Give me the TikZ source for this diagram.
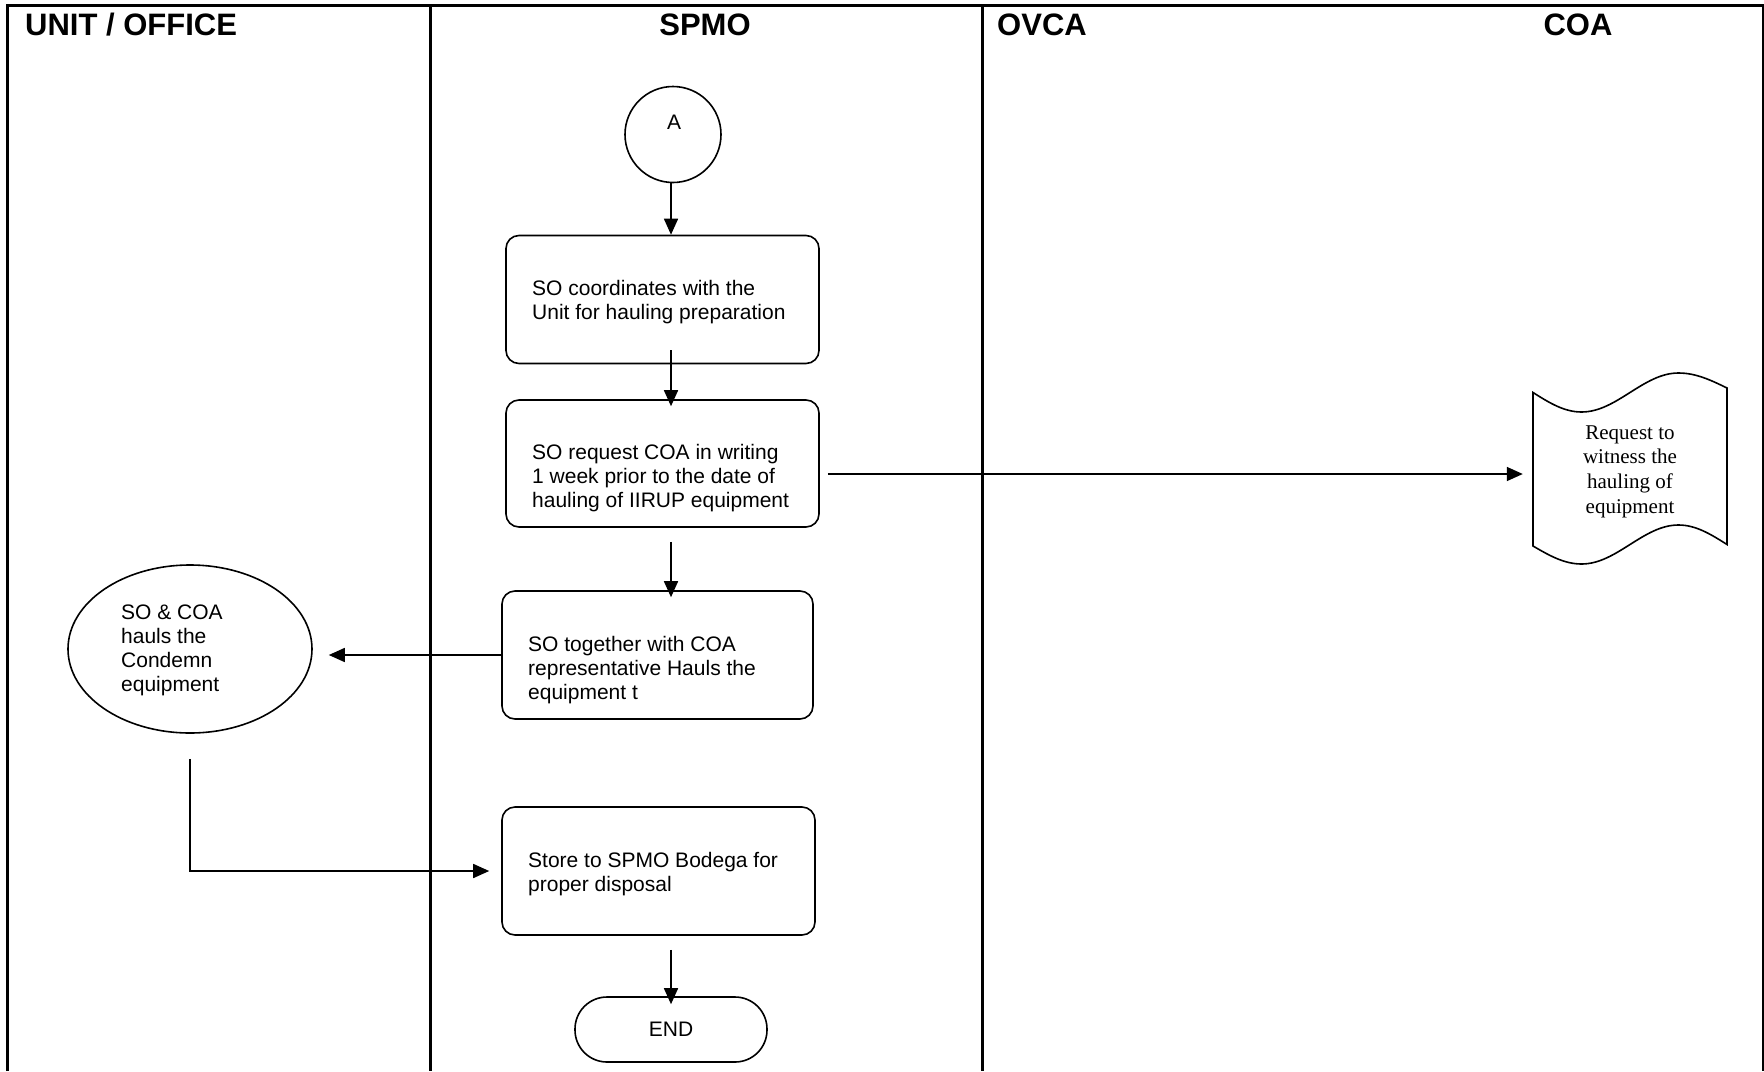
\documentclass[tikz,border=0pt]{standalone}
\usepackage{fontspec}
\setmainfont{Liberation Sans}
\newfontfamily\docfont{Liberation Serif}
\usetikzlibrary{arrows.meta,calc,shapes.geometric}

\begin{document}
\begin{tikzpicture}[x=1pt,y=-1pt,
  frame/.style={line width=3pt},
  shapeline/.style={line width=1.6pt},
  procbox/.style={draw, shapeline, rounded corners=13pt, inner sep=0pt,
    minimum width=313pt, minimum height=128pt},
  body/.style={font=\fontsize{21}{24}\selectfont, align=left, inner sep=0pt,
    anchor=north west},
  head/.style={font=\bfseries\fontsize{31}{36}\selectfont, inner sep=0pt},
  arr/.style={line width=1.6pt, -{Triangle[length=16pt,width=14pt]}}]

\useasboundingbox (0,0) rectangle (1764,1071);

% swimlane frame
\draw[frame] (7,1071) -- (7,5) -- (1763,5) -- (1763,1071);
\draw[frame] (430,5) -- (430,1071);
\draw[frame] (982,5) -- (982,1071);

% lane headings
\node[head, anchor=base west] (hUnit) at (25,35) {UNIT / OFFICE};
\node[head, anchor=base] (hSpmo) at (705,35) {SPMO};
\node[head, anchor=base west] (hOvca) at (997,35) {OVCA};
\node[head, anchor=base] (hCoa) at (1578,35) {COA};

% vertical flow line of the SPMO lane
\coordinate (spine) at (671,0);

% connector A
\node[draw, shapeline, circle, minimum size=96pt, inner sep=0pt] (A) at (673,134.5) {};
\node[font=\fontsize{21}{24}\selectfont, inner sep=0pt] (Atext) at (674,122.5) {A};

% process boxes
\node[procbox] (b1) at (662.5,299.5) {};
\node[body] (t1) at (532,280) {SO coordinates with the\\Unit for hauling preparation};

\node[procbox, minimum height=127pt] (b2) at (662.5,463.5) {};
\node[body] (t2) at (532,444) {SO request COA in writing\\1 week prior to the date of\\hauling of IIRUP equipment};

\node[procbox, minimum width=311pt] (b3) at (657.5,655) {};
\node[body] (t3) at (528,636) {SO together with COA\\representative Hauls the\\equipment t};

\node[procbox] (b4) at (658.5,871) {};
\node[body] (t4) at (528,852) {Store to SPMO Bodega for\\proper disposal};

% terminator
\node[draw, shapeline, rounded corners=32pt, minimum width=192pt, minimum height=65pt,
  inner sep=0pt, font=\fontsize{21}{24}\selectfont] (end) at (671,1029.5) {END};

% unit / office activity
\node[draw, shapeline, ellipse, minimum width=244pt, minimum height=168pt, inner sep=0pt] (E) at (190,649) {};
\node[body] (tE) at (121,605) {SO \& COA\\hauls the\\Condemn\\equipment};

% COA document
\node[minimum width=194pt, minimum height=152pt, inner sep=0pt, align=center,
  font=\docfont\fontsize{21}{24.75}\selectfont] (doc) at (1630,471.5)
  {Request to\\witness the\\hauling of\\equipment};
\draw[shapeline] (1533,392.5) sin (1581.5,412) cos (1630,392.5) sin (1678.5,373) cos (1727,388)
  -- (1727,544.5) sin (1678.5,525) cos (1630,544.5) sin (1581.5,564) cos (1533,546) -- cycle;

% connectors
\draw[arr] (A.south -| spine) -- (b1.north -| spine);
\draw[arr, shorten >=-7pt] ($(b1.south -| spine)+(0,-14)$) -- (b2.north -| spine);
\draw[arr, shorten <=8pt, shorten >=10pt] (b2.east |- 0,474) -- (doc.west |- 0,474);
\draw[arr, shorten >=-7pt] ($(b2.south -| spine)+(0,14)$) -- (b3.north -| spine);
\draw[arr, shorten >=16pt] (b3.west) -- (E.east |- b3.west);
\draw[arr, shorten <=25pt, shorten >=12pt] (E.south) |- (b4.west);
\draw[arr, shorten >=-8pt] ($(b4.south -| spine)+(0,14)$) -- (end.north -| spine);

\end{tikzpicture}
\end{document}
